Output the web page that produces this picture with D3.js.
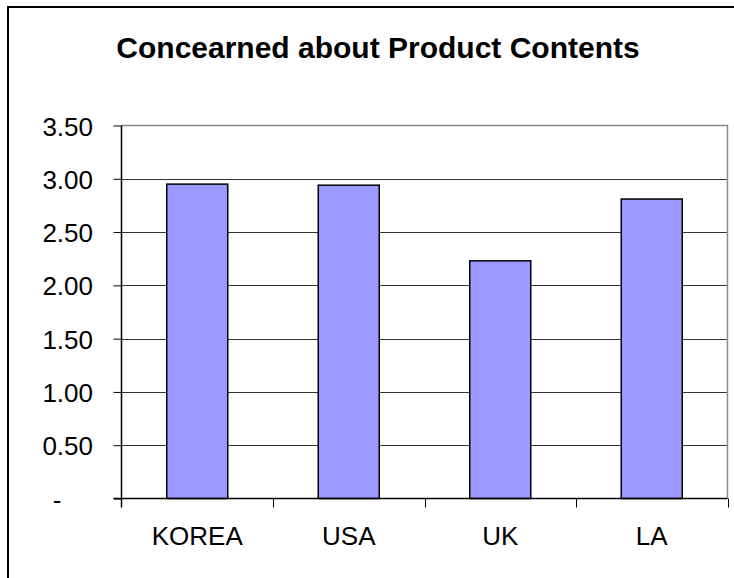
<!DOCTYPE html>
<html>
<head>
<meta charset="utf-8">
<script src="https://cdn.jsdelivr.net/npm/d3@7"></script>
<style>
  html, body { margin: 0; padding: 0; background: #fff; }
  svg { display: block; }
  text { font-family: "Liberation Sans", Arial, sans-serif; fill: #000; }
</style>
</head>
<body>
<script>
// Survey data: mean concern score by market
const categories = ["KOREA", "USA", "UK", "LA"];
const values = [2.95, 2.94, 2.23, 2.81];
const yTicks = [0, 0.5, 1.0, 1.5, 2.0, 2.5, 3.0, 3.5];
const yTickLabels = ["-", "0.50", "1.00", "1.50", "2.00", "2.50", "3.00", "3.50"];
const titleText = "Concearned about Product Contents";

const W = 734, H = 578;
const plot = { left: 121.5, right: 727.5, top: 125.5, bottom: 498.5 };

const svg = d3.select("body").append("svg")
  .attr("width", W).attr("height", H);

// Chart frame (runs past the right and bottom edges)
svg.append("rect")
  .attr("x", 8).attr("y", 7)
  .attr("width", W + 20).attr("height", H + 20)
  .attr("fill", "#fff").attr("stroke", "#000").attr("stroke-width", 2);

const x = d3.scaleBand()
  .domain(categories)
  .range([plot.left, plot.right])
  .paddingInner(0).paddingOuter(0);

const y = d3.scaleLinear()
  .domain([0, 3.5])
  .range([plot.bottom, plot.top]);

// Gridlines
svg.append("g")
  .selectAll("line")
  .data(yTicks.filter(d => d > 0 && d < 3.5))
  .join("line")
  .attr("x1", plot.left).attr("x2", plot.right)
  .attr("y1", d => Math.round(y(d)) + 0.5).attr("y2", d => Math.round(y(d)) + 0.5)
  .attr("stroke", "#333").attr("stroke-width", 1);

// Plot area border (grey)
svg.append("path")
  .attr("d", `M${plot.left},${plot.top}H${plot.right}V${plot.bottom}`)
  .attr("fill", "none").attr("stroke", "#888").attr("stroke-width", 1.5);

// Bars
const barW = 61;
svg.append("g")
  .selectAll("rect")
  .data(values)
  .join("rect")
  .attr("x", (d, i) => x(categories[i]) + x.bandwidth() / 2 - barW / 2)
  .attr("y", d => y(d))
  .attr("width", barW)
  .attr("height", d => y(0) - y(d))
  .attr("fill", "#9999ff")
  .attr("stroke", "#000").attr("stroke-width", 1.5);

// Y axis
const yAxis = d3.axisLeft(y)
  .tickValues(yTicks)
  .tickSize(8)
  .tickFormat("");
const gy = svg.append("g")
  .attr("transform", `translate(${plot.left},0)`)
  .call(yAxis);
gy.select(".domain").attr("d", `M0,${plot.top}V${plot.bottom + 9}`).attr("stroke", "#000").attr("stroke-width", 1.5);
gy.selectAll(".tick line").attr("stroke", "#000");

svg.append("g")
  .selectAll("text")
  .data(yTicks)
  .join("text")
  .attr("x", d => d === 0 ? 57 : 93)
  .attr("y", d => y(d) + 10)
  .attr("text-anchor", d => d === 0 ? "middle" : "end")
  .attr("font-size", 26)
  .text((d, i) => yTickLabels[i]);

// X axis
const boundaries = categories.map(c => x(c)).concat([plot.right]);
const gx = svg.append("g");
gx.append("line")
  .attr("x1", plot.left - 8).attr("x2", plot.right)
  .attr("y1", plot.bottom).attr("y2", plot.bottom)
  .attr("stroke", "#000").attr("stroke-width", 1.5);
gx.selectAll("line.tk")
  .data(boundaries.slice(1))
  .join("line").attr("class", "tk")
  .attr("x1", d => Math.round(d) + 0.5).attr("x2", d => Math.round(d) + 0.5)
  .attr("y1", plot.bottom).attr("y2", plot.bottom + 9)
  .attr("stroke", "#000").attr("stroke-width", 1);

svg.append("g")
  .selectAll("text")
  .data(categories)
  .join("text")
  .attr("x", d => x(d) + x.bandwidth() / 2)
  .attr("y", 545)
  .attr("text-anchor", "middle")
  .attr("font-size", 26)
  .text(d => d);

// Title
svg.append("text")
  .attr("x", 378).attr("y", 58)
  .attr("text-anchor", "middle")
  .attr("font-size", 30)
  .attr("font-weight", "bold")
  .text(titleText);
</script>
</body>
</html>
